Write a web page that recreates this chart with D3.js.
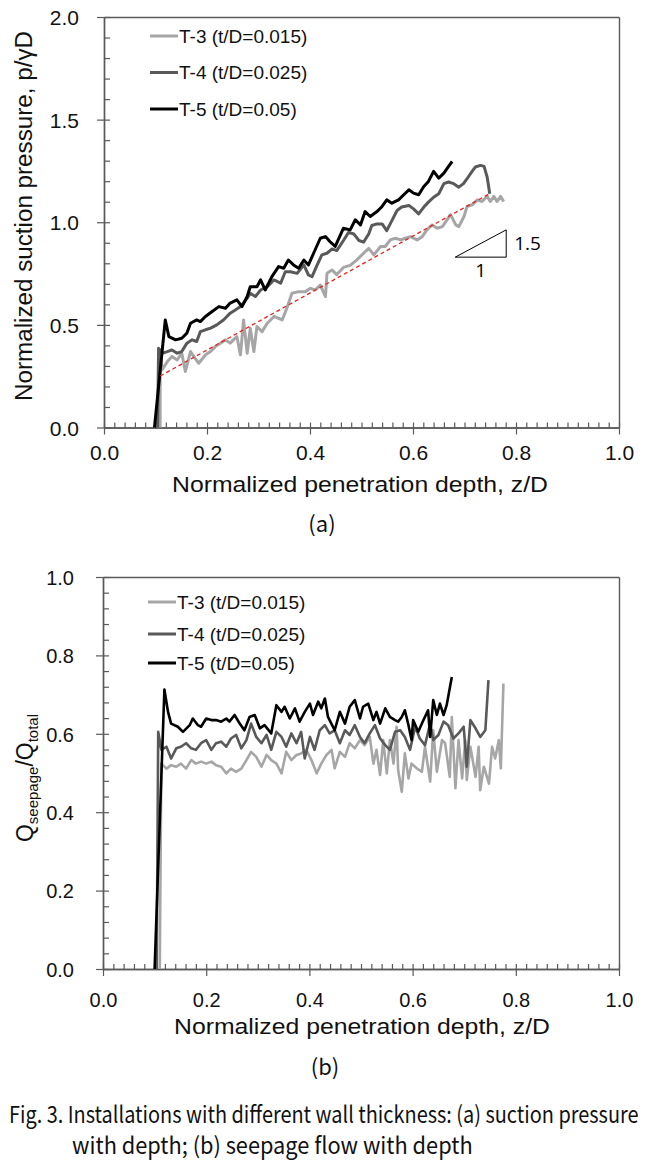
<!DOCTYPE html>
<html><head><meta charset="utf-8">
<script src="https://cdn.jsdelivr.net/npm/d3@7"></script>
<style>body{margin:0;background:#fff}svg{display:block}</style>
</head><body><svg id="c" width="653" height="1164"></svg>
<script>
// ---------------- DATA ----------------
const seriesNames = ["T-3 (t/D=0.015)", "T-4 (t/D=0.025)", "T-5 (t/D=0.05)"];
const xTickValues = [0, 0.2, 0.4, 0.6, 0.8, 1.0];
const suctionTickValues = [0, 0.5, 1.0, 1.5, 2.0];
const seepageTickValues = [0, 0.2, 0.4, 0.6, 0.8, 1.0];

// (a) normalized suction pressure vs normalized penetration depth  [z/D, p/γD]
const suctionT3 = [[0.109,0],[0.109,0.378],[0.113,0.281],[0.123,0.321],[0.132,0.346],[0.142,0.329],[0.151,0.362],[0.158,0.273],[0.168,0.370],[0.177,0.337],[0.184,0.313],[0.197,0.354],[0.207,0.370],[0.216,0.394],[0.226,0.411],[0.236,0.427],[0.245,0.411],[0.258,0.443],[0.265,0.354],[0.271,0.524],[0.278,0.362],[0.284,0.484],[0.291,0.370],[0.297,0.492],[0.307,0.467],[0.317,0.508],[0.330,0.541],[0.346,0.524],[0.355,0.581],[0.365,0.654],[0.378,0.662],[0.391,0.662],[0.401,0.678],[0.410,0.670],[0.420,0.694],[0.430,0.638],[0.433,0.751],[0.443,0.767],[0.452,0.745],[0.465,0.780],[0.478,0.790],[0.491,0.817],[0.504,0.849],[0.514,0.873],[0.524,0.841],[0.537,0.882],[0.546,0.882],[0.556,0.914],[0.566,0.922],[0.576,0.914],[0.585,0.922],[0.595,0.930],[0.608,0.914],[0.618,0.930],[0.627,0.963],[0.637,0.987],[0.647,0.971],[0.657,0.979],[0.666,1.012],[0.673,1.037],[0.683,0.987],[0.689,0.979],[0.699,1.028],[0.705,1.077],[0.715,1.085],[0.725,1.109],[0.734,1.101],[0.744,1.126],[0.750,1.101],[0.757,1.126],[0.763,1.101],[0.770,1.126],[0.776,1.101]];
const suctionT4 = [[0.104,0],[0.106,0.386],[0.113,0.362],[0.123,0.370],[0.132,0.378],[0.142,0.362],[0.151,0.370],[0.161,0.411],[0.171,0.427],[0.180,0.419],[0.187,0.467],[0.197,0.476],[0.207,0.484],[0.219,0.500],[0.232,0.524],[0.245,0.557],[0.255,0.573],[0.265,0.589],[0.278,0.630],[0.284,0.654],[0.294,0.638],[0.304,0.670],[0.317,0.686],[0.330,0.719],[0.343,0.703],[0.352,0.759],[0.362,0.759],[0.375,0.751],[0.388,0.792],[0.397,0.743],[0.404,0.735],[0.414,0.792],[0.423,0.841],[0.433,0.849],[0.443,0.870],[0.452,0.862],[0.465,0.911],[0.475,0.951],[0.485,0.943],[0.495,0.911],[0.504,0.903],[0.514,0.943],[0.520,0.984],[0.530,0.992],[0.540,0.992],[0.549,0.959],[0.559,1.008],[0.569,1.057],[0.578,1.074],[0.592,1.082],[0.601,1.065],[0.611,1.041],[0.621,1.074],[0.630,1.098],[0.640,1.122],[0.650,1.139],[0.660,1.188],[0.669,1.196],[0.679,1.188],[0.689,1.171],[0.698,1.188],[0.705,1.212],[0.714,1.245],[0.721,1.269],[0.731,1.277],[0.738,1.272],[0.744,1.220],[0.749,1.139]];
const suctionT5 = [[0.098,0],[0.119,0.524],[0.126,0.443],[0.139,0.427],[0.151,0.435],[0.161,0.460],[0.168,0.508],[0.180,0.524],[0.187,0.516],[0.197,0.541],[0.210,0.565],[0.223,0.589],[0.236,0.581],[0.245,0.606],[0.258,0.622],[0.268,0.589],[0.278,0.638],[0.284,0.686],[0.297,0.686],[0.304,0.719],[0.313,0.670],[0.326,0.735],[0.339,0.784],[0.349,0.776],[0.358,0.816],[0.368,0.792],[0.378,0.776],[0.388,0.816],[0.397,0.792],[0.407,0.849],[0.420,0.922],[0.430,0.930],[0.439,0.905],[0.449,0.882],[0.465,0.971],[0.478,0.963],[0.488,1.012],[0.498,0.987],[0.507,1.052],[0.517,1.028],[0.530,1.052],[0.540,1.077],[0.549,1.109],[0.559,1.093],[0.572,1.109],[0.582,1.134],[0.592,1.158],[0.601,1.142],[0.611,1.134],[0.621,1.174],[0.630,1.199],[0.640,1.248],[0.650,1.215],[0.660,1.239],[0.669,1.272],[0.676,1.296]];
const trendX = [0.109, 0.747];
const trendY = [0.251, 1.137];
const slopeX = [0.682, 0.781];
const slopeY = [0.830, 0.963];

// (b) seepage flow ratio vs normalized penetration depth  [z/D, Qseepage/Qtotal]
const seepageT3 = [[0.110,0],[0.113,0.524],[0.123,0.511],[0.132,0.520],[0.142,0.516],[0.151,0.524],[0.161,0.511],[0.171,0.533],[0.180,0.524],[0.190,0.529],[0.200,0.524],[0.210,0.529],[0.219,0.520],[0.229,0.516],[0.239,0.499],[0.248,0.511],[0.258,0.503],[0.268,0.511],[0.278,0.533],[0.287,0.554],[0.297,0.541],[0.307,0.516],[0.317,0.546],[0.326,0.533],[0.336,0.524],[0.346,0.499],[0.355,0.554],[0.365,0.533],[0.375,0.546],[0.384,0.550],[0.394,0.559],[0.404,0.533],[0.414,0.499],[0.423,0.524],[0.433,0.546],[0.443,0.559],[0.449,0.512],[0.459,0.554],[0.469,0.541],[0.478,0.576],[0.488,0.563],[0.498,0.584],[0.507,0.571],[0.517,0.592],[0.524,0.524],[0.530,0.559],[0.537,0.495],[0.543,0.584],[0.550,0.499],[0.556,0.584],[0.563,0.524],[0.569,0.618],[0.572,0.507],[0.579,0.452],[0.585,0.550],[0.592,0.486],[0.598,0.524],[0.608,0.512],[0.618,0.503],[0.624,0.567],[0.634,0.478],[0.640,0.609],[0.647,0.503],[0.657,0.584],[0.663,0.576],[0.672,0.490],[0.676,0.643],[0.683,0.461],[0.689,0.584],[0.696,0.486],[0.702,0.584],[0.705,0.482],[0.712,0.567],[0.722,0.490],[0.728,0.567],[0.731,0.456],[0.738,0.516],[0.748,0.473],[0.754,0.567],[0.760,0.537],[0.767,0.584],[0.771,0.512],[0.776,0.728]];
const seepageT4 = [[0.104,0],[0.107,0.605],[0.113,0.559],[0.123,0.567],[0.132,0.537],[0.142,0.563],[0.151,0.567],[0.161,0.576],[0.171,0.563],[0.180,0.559],[0.190,0.576],[0.200,0.584],[0.210,0.559],[0.219,0.576],[0.229,0.580],[0.239,0.567],[0.248,0.588],[0.258,0.597],[0.268,0.563],[0.278,0.584],[0.287,0.626],[0.297,0.592],[0.307,0.576],[0.317,0.597],[0.326,0.559],[0.336,0.605],[0.346,0.592],[0.355,0.567],[0.365,0.601],[0.375,0.576],[0.384,0.605],[0.391,0.537],[0.401,0.592],[0.410,0.559],[0.420,0.609],[0.430,0.622],[0.439,0.601],[0.449,0.609],[0.459,0.576],[0.469,0.609],[0.478,0.597],[0.488,0.622],[0.498,0.592],[0.507,0.576],[0.517,0.601],[0.527,0.622],[0.537,0.588],[0.547,0.571],[0.556,0.559],[0.566,0.605],[0.576,0.609],[0.585,0.592],[0.595,0.559],[0.605,0.618],[0.614,0.588],[0.624,0.571],[0.634,0.626],[0.640,0.584],[0.650,0.597],[0.660,0.631],[0.669,0.622],[0.679,0.588],[0.689,0.601],[0.699,0.618],[0.705,0.516],[0.712,0.635],[0.722,0.614],[0.731,0.592],[0.741,0.609],[0.747,0.737]];
const seepageT5 = [[0.100,0],[0.119,0.713],[0.126,0.656],[0.132,0.626],[0.145,0.618],[0.155,0.605],[0.168,0.622],[0.174,0.639],[0.184,0.622],[0.190,0.618],[0.200,0.639],[0.210,0.635],[0.219,0.635],[0.229,0.631],[0.239,0.639],[0.245,0.631],[0.255,0.648],[0.265,0.626],[0.274,0.609],[0.284,0.643],[0.294,0.648],[0.304,0.614],[0.313,0.622],[0.326,0.601],[0.336,0.673],[0.346,0.656],[0.352,0.669],[0.362,0.639],[0.372,0.665],[0.381,0.631],[0.391,0.656],[0.401,0.677],[0.407,0.648],[0.417,0.682],[0.423,0.665],[0.430,0.690],[0.436,0.643],[0.449,0.609],[0.459,0.656],[0.469,0.626],[0.478,0.669],[0.488,0.686],[0.498,0.639],[0.504,0.669],[0.514,0.677],[0.524,0.635],[0.530,0.656],[0.537,0.626],[0.547,0.665],[0.556,0.643],[0.566,0.635],[0.572,0.631],[0.579,0.643],[0.585,0.660],[0.592,0.622],[0.598,0.584],[0.601,0.635],[0.611,0.605],[0.621,0.635],[0.630,0.660],[0.634,0.592],[0.640,0.686],[0.647,0.648],[0.653,0.677],[0.660,0.648],[0.666,0.673],[0.676,0.745]];

// ---------------- STYLE / LAYOUT ----------------
const colors = ["#a6a6a6", "#595959", "#000000"];
const AX = "#5a5a5a";
const FONT = "'Liberation Sans', Arial, sans-serif";
const CAPFONT = "'Noto Sans CJK KR', sans-serif";
const svg = d3.select("#c");

function fitText(sel, x, y, width, anchor) {
  const w = sel.node().getComputedTextLength();
  sel.attr("x", 0).attr("y", 0).attr("text-anchor", anchor || "start")
    .attr("transform", `translate(${x},${y}) scale(${width / w},1)`);
}

function panel(o) {
  const x = d3.scaleLinear().domain([0, 1]).range([o.x0, o.x1]);
  const y = d3.scaleLinear().domain([0, o.ymax]).range([o.yb, o.yt]);
  const g = svg.append("g");

  g.append("g").attr("transform", `translate(0,${o.yt})`).call(d3.axisTop(x).tickValues([]).tickSizeOuter(0));
  g.append("g").attr("transform", `translate(${o.x1},0)`).call(d3.axisRight(y).tickValues([]).tickSizeOuter(0));
  g.append("g").attr("transform", `translate(0,${o.yb})`)
    .call(d3.axisBottom(x).tickValues(d3.range(0, 51).map(i => i / 50)).tickSize(-5).tickSizeOuter(0).tickFormat(""));
  g.append("g").attr("transform", `translate(${o.x0},0)`)
    .call(d3.axisLeft(y).tickValues(d3.range(0, o.nMinorY + 1).map(i => i * o.ymax / o.nMinorY)).tickSize(-6).tickSizeOuter(0).tickFormat(""));
  const gx = g.append("g").attr("transform", `translate(0,${o.yb})`)
    .call(d3.axisBottom(x).tickValues(xTickValues).tickSize(7).tickSizeOuter(0).tickFormat(d3.format(".1f")));
  gx.selectAll("text").attr("y", o.xLabelOff).attr("dy", "0.35em").style("font-size", o.tickFs + "px");
  const gy = g.append("g").attr("transform", `translate(${o.x0},0)`)
    .call(d3.axisLeft(y).tickValues(o.yTicks).tickSize(7).tickSizeOuter(0).tickFormat(d3.format(".1f")));
  gy.selectAll("text").attr("x", -o.yLabelOff).attr("dy", "0.36em").style("font-size", o.tickFs + "px");

  g.selectAll(".domain").attr("stroke", AX).attr("stroke-width", 1.4);
  g.selectAll(".tick line").attr("stroke", AX).attr("stroke-width", 1.2);
  g.selectAll(".tick text").attr("fill", "#111").style("font-family", FONT);

  const line = d3.line().x(d => x(d[0])).y(d => y(d[1]));
  o.series.forEach((s, i) => {
    g.append("path").datum(s).attr("d", line).attr("fill", "none")
      .attr("stroke", colors[i]).attr("stroke-width", o.lw).attr("stroke-linejoin", "round");
  });

  seriesNames.forEach((n, i) => {
    const ly = o.legY[i];
    g.append("line").attr("x1", o.legX).attr("x2", o.legX + 28).attr("y1", ly).attr("y2", ly)
      .attr("stroke", colors[i]).attr("stroke-width", 3);
    g.append("text").attr("x", o.legX + 29).attr("y", ly).attr("dy", "0.35em")
      .style("font-family", FONT).style("font-size", "19px").attr("fill", "#111").text(n);
  });

  g.append("text").attr("x", o.xTitleX).attr("y", o.xTitleY).attr("dy", "0.35em").attr("text-anchor", "middle")
    .style("font-family", FONT).style("font-size", "22px").attr("fill", "#111")
    .attr("textLength", 376).attr("lengthAdjust", "spacingAndGlyphs")
    .text("Normalized penetration depth, z/D");
  g.append("text").attr("x", o.capX).attr("y", o.capY).attr("dy", "0.35em").attr("text-anchor", "middle")
    .style("font-family", CAPFONT).style("font-size", "22px").attr("fill", "#111")
    .text(o.cap);
  return { g, x, y };
}

// ---- panel (a)
const A = panel({
  x0: 104, x1: 619, yb: 427.5, yt: 17, ymax: 2, nMinorY: 20,
  yTicks: suctionTickValues, tickFs: 21, xLabelOff: 25, yLabelOff: 25,
  series: [suctionT3, suctionT4, suctionT5], lw: 3,
  legX: 150, legY: [36, 72.5, 109],
  xTitleX: 360, xTitleY: 484, cap: "(a)", capX: 322, capY: 524
});
A.g.append("line").attr("x1", A.x(trendX[0])).attr("y1", A.y(trendY[0]))
  .attr("x2", A.x(trendX[1])).attr("y2", A.y(trendY[1]))
  .attr("stroke", "#e8201e").attr("stroke-width", 1.3).attr("stroke-dasharray", "4,3");
A.g.append("path")
  .attr("d", `M${A.x(slopeX[0])},${A.y(slopeY[0])}L${A.x(slopeX[1])},${A.y(slopeY[0])}L${A.x(slopeX[1])},${A.y(slopeY[1])}Z`)
  .attr("fill", "none").attr("stroke", "#000").attr("stroke-width", 1);
A.g.append("text").attr("x", A.x(slopeX[1]) + 8).attr("y", A.y((slopeY[0] + slopeY[1]) / 2)).attr("dy", "0.35em")
  .style("font-family", "'Open Sans', sans-serif").style("font-size", "19px").text("1.5");
A.g.append("text").attr("x", A.x((slopeX[0] + slopeX[1]) / 2)).attr("y", A.y(slopeY[0]) + 13).attr("dy", "0.35em")
  .attr("text-anchor", "middle").style("font-family", "'Open Sans', sans-serif").style("font-size", "19px").text("1");
svg.append("text").attr("transform", "translate(32,216) rotate(-90)").attr("text-anchor", "middle")
  .style("font-family", FONT).style("font-size", "23px").attr("fill", "#111")
  .attr("textLength", 370).attr("lengthAdjust", "spacingAndGlyphs")
  .text("Normalized suction pressure, p/γD");

// ---- panel (b)
const B = panel({
  x0: 103, x1: 619, yb: 969, yt: 577, ymax: 1, nMinorY: 25,
  yTicks: seepageTickValues, tickFs: 20, xLabelOff: 31, yLabelOff: 29,
  series: [seepageT3, seepageT4, seepageT5], lw: 2.6,
  legX: 148, legY: [602, 634, 663],
  xTitleX: 362, xTitleY: 1026, cap: "(b)", capX: 325, capY: 1067
});
const qt = svg.append("text").attr("transform", "translate(33,778) rotate(-90)").attr("text-anchor", "middle")
  .style("font-family", FONT).style("font-size", "23px").attr("fill", "#111");
qt.append("tspan").text("Q");
qt.append("tspan").attr("dy", 5).style("font-size", "15px").text("seepage");
qt.append("tspan").attr("dy", -5).text("/Q");
qt.append("tspan").attr("dy", 5).style("font-size", "15px").text("total");

// caption
const c1 = svg.append("text").attr("dy", "0.35em")
  .style("font-family", CAPFONT).style("font-size", "23px").attr("fill", "#111")
  .text("Fig. 3. Installations with different wall thickness: (a) suction pressure");
fitText(c1, 9, 1115, 630);
const c2 = svg.append("text").attr("dy", "0.35em")
  .style("font-family", CAPFONT).style("font-size", "23px").attr("fill", "#111")
  .text("with depth; (b) seepage flow with depth");
fitText(c2, 72, 1146, 401);
</script></body></html>
